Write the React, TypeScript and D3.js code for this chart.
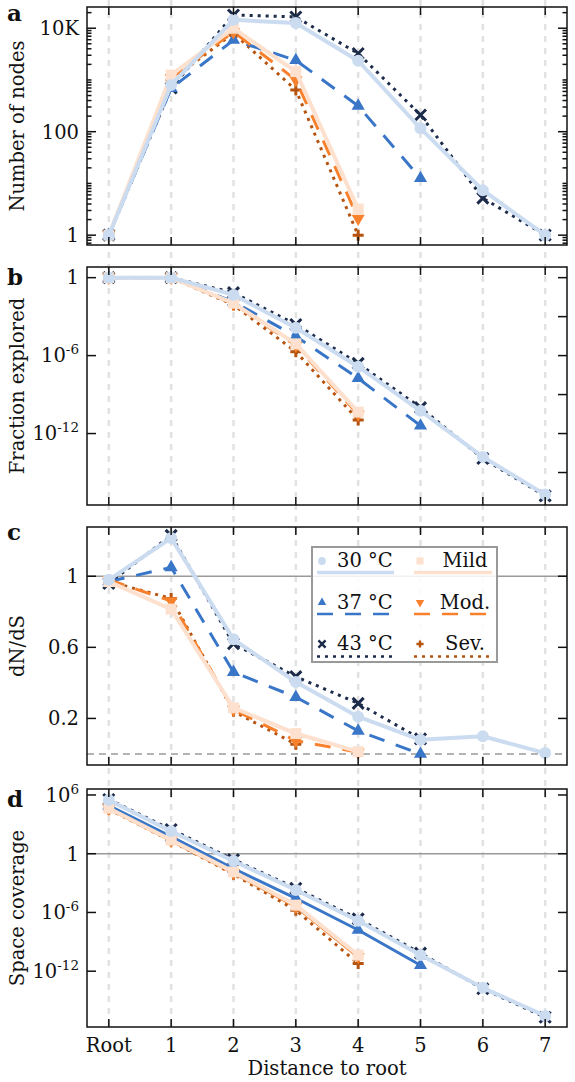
import { useEffect, useRef } from "react";
import * as d3 from "d3";

const distanceLabels = ["Root", "1", "2", "3", "4", "5", "6", "7"];

// a: number of nodes per distance
const nodes30 = [1, 800, 14500, 12600, 2350, 116, 7.4, 1];
const nodes37 = [1, 690, 5900, 2400, 315, 12.6];
const nodes43 = [1, 700, 18000, 16500, 3250, 210, 5.2, 1];
const nodesMild = [1, 1240, 10000, 1450, 3.2];
const nodesMod = [1, 1100, 8500, 1000, 2.1];
const nodesSev = [1, 1000, 8000, 640, 1];

// b: fraction explored
const frac30 = [1, 1, 4.7e-2, 1.4e-4, 1.4e-7, 5.6e-11, 1.6e-14, 2e-17];
const frac37 = [1, 1, 1.4e-2, 3e-5, 1.8e-8, 4e-12];
const frac43 = [1, 1, 7e-2, 2.5e-4, 2.5e-7, 1e-10, 1.2e-14, 1.6e-17];
const fracMild = [1, 1, 1.1e-2, 8e-6, 4.5e-11];
const fracMod = [1, 1, 1e-2, 6e-6, 3e-11];
const fracSev = [1, 1, 8e-3, 2e-6, 1.1e-11];

// c: dN/dS
const dnds30 = [0.98, 1.215, 0.645, 0.405, 0.21, 0.08, 0.1, 0.005];
const dnds37 = [0.97, 1.05, 0.46, 0.32, 0.13, 0.0];
const dnds43 = [0.96, 1.23, 0.62, 0.435, 0.285, 0.085];
const dndsMild = [0.97, 0.815, 0.26, 0.115, 0.013];
const dndsMod = [0.98, 0.86, 0.25, 0.075, 0.01];
const dndsSev = [0.97, 0.875, 0.24, 0.055];

// d: space coverage
const cov30 = [3e5, 200, 0.18, 2e-4, 1.4e-7, 4.4e-11, 2e-14, 2.7e-17];
const cov37 = [8e4, 55, 3e-2, 2.8e-5, 1.6e-8, 4e-12];
const cov43 = [3.5e5, 300, 0.25, 3e-4, 2.2e-7, 7e-11, 1.6e-14, 2e-17];
const covMild = [4.5e4, 25, 1.4e-2, 5.6e-6, 4.4e-11];
const covMod = [4e4, 22, 1.1e-2, 4e-6, 3e-11];
const covSev = [3.5e4, 20, 8e-3, 1.7e-6, 6e-12];

const nodesTicks = [1, 100, 10000];
const nodesTickLabels = ["1", "100", "10K"];
const fracTicks = [1, 1e-6, 1e-12];
const fracRightTicks = [1, 1e-3, 1e-6, 1e-9, 1e-12, 1e-15];
const dndsTicks = [0.2, 0.6, 1];
const covTicks = [1e6, 1, 1e-6, 1e-12];

type Key = "t30" | "t37" | "t43" | "mild" | "mod" | "sev";

const legendCols: Key[][] = [
  ["t30", "t37", "t43"],
  ["mild", "mod", "sev"],
];
const drawOrder: Key[] = ["t43", "sev", "t37", "mod", "mild", "t30"];

const styles: Record<Key, { name: string; color: string; width: number; dash: string | null; marker: string }> = {
  t30: { name: "30 °C", color: "#cbdcf1", width: 4, dash: null, marker: "circle" },
  t37: { name: "37 °C", color: "#3a76c8", width: 3, dash: "16,12", marker: "triUp" },
  t43: { name: "43 °C", color: "#1c2b4a", width: 3, dash: "3,5", marker: "x" },
  mild: { name: "Mild", color: "#fde1ce", width: 4, dash: null, marker: "square" },
  mod: { name: "Mod.", color: "#f8812d", width: 3, dash: "16,12", marker: "triDown" },
  sev: { name: "Sev.", color: "#b5530f", width: 3, dash: "3,5", marker: "plus" },
};

const FONT = "DejaVu Serif";

const markerPath = (m: string, s: number) => {
  if (m === "circle") return d3.symbol(d3.symbolCircle, 113 * s * s)() as string;
  if (m === "square") return d3.symbol(d3.symbolSquare, 121 * s * s)() as string;
  if (m === "triUp" || m === "triDown") return d3.symbol(d3.symbolTriangle, 75 * s * s)() as string;
  const h = 5.5 * s;
  if (m === "x") return `M${-h},${-h}L${h},${h}M${-h},${h}L${h},${-h}`;
  return `M${-h},0L${h},0M0,${-h}L0,${h}`;
};

const drawMarker = (g: any, m: string, color: string, cx: number, cy: number, s: number) => {
  const stroked = m === "x" || m === "plus";
  g.append("path")
    .attr("d", markerPath(m, s))
    .attr("transform", `translate(${cx},${cy})${m === "triDown" ? " rotate(180)" : ""}`)
    .attr("fill", stroked ? "none" : color)
    .attr("stroke", stroked ? color : "none")
    .attr("stroke-width", stroked ? 3 * Math.max(s, 0.8) : 0);
};

const App = () => {
  const ref = useRef<SVGSVGElement | null>(null);

  useEffect(() => {
    if (!ref.current) return;
    const svg = d3.select(ref.current);
    svg.selectAll("*").remove();

    const left = 87;
    const right = 567;
    const x = d3.scaleLinear().domain([-0.35, 7.35]).range([left, right]);

    const panels = [
      {
        letter: "a", letterY: 21, title: "Number of nodes", top: 7, bottom: 245, log: true,
        domain: [10 ** -0.19, 10 ** 4.41],
        data: { t30: nodes30, t37: nodes37, t43: nodes43, mild: nodesMild, mod: nodesMod, sev: nodesSev },
        ticks: nodesTicks, labels: nodesTickLabels, rightTicks: nodesTicks, minor: true, hlines: [] as { v: number; dash: string | null }[],
      },
      {
        letter: "b", letterY: 285, title: "Fraction explored", top: 267, bottom: 505, log: true,
        domain: [10 ** -17.5, 10 ** 0.82],
        data: { t30: frac30, t37: frac37, t43: frac43, mild: fracMild, mod: fracMod, sev: fracSev },
        ticks: fracTicks, labels: null, rightTicks: fracRightTicks, minor: false, hlines: [],
      },
      {
        letter: "c", letterY: 540, title: "dN/dS", top: 527, bottom: 765, log: false,
        domain: [-0.062, 1.277],
        data: { t30: dnds30, t37: dnds37, t43: dnds43, mild: dndsMild, mod: dndsMod, sev: dndsSev },
        ticks: dndsTicks, labels: dndsTicks.map(String), rightTicks: dndsTicks, minor: false,
        hlines: [{ v: 1, dash: null }, { v: 0, dash: "7,5" }],
      },
      {
        letter: "d", letterY: 807, title: "Space coverage", top: 789, bottom: 1027, log: true,
        domain: [10 ** -17.7, 10 ** 6.61],
        data: { t30: cov30, t37: cov37, t43: cov43, mild: covMild, mod: covMod, sev: covSev },
        ticks: covTicks, labels: null, rightTicks: covTicks, minor: false, hlines: [{ v: 1, dash: null }],
        solid: ["t37", "mod"],
      },
    ];

    // vertical guides through all panels
    svg.append("g")
      .selectAll("line")
      .data(distanceLabels)
      .join("line")
      .attr("x1", (_, i) => x(i))
      .attr("x2", (_, i) => x(i))
      .attr("y1", 0)
      .attr("y2", 1030)
      .attr("stroke", "#e2e2e2")
      .attr("stroke-width", 2.5)
      .attr("stroke-dasharray", "6,6");

    panels.forEach((p) => {
      const y: any = p.log
        ? d3.scaleLog().domain(p.domain).range([p.bottom, p.top])
        : d3.scaleLinear().domain(p.domain).range([p.bottom, p.top]);
      const g = svg.append("g");

      p.hlines.forEach((h) => {
        g.append("line")
          .attr("x1", left).attr("x2", right)
          .attr("y1", y(h.v)).attr("y2", y(h.v))
          .attr("stroke", "#9a9a9a")
          .attr("stroke-width", 1.6)
          .attr("stroke-dasharray", h.dash);
      });

      drawOrder.forEach((k) => {
        const vals: number[] | undefined = (p.data as any)[k];
        if (!vals) return;
        const st = styles[k];
        const dash = (p as any).solid && (p as any).solid.includes(k) ? null : st.dash;
        const line = d3.line<number>().x((_, i) => x(i)).y((d) => y(d));
        g.append("path")
          .datum(vals)
          .attr("fill", "none")
          .attr("stroke", st.color)
          .attr("stroke-width", st.width)
          .attr("stroke-dasharray", dash)
          .attr("stroke-linejoin", "round")
          .attr("d", line);
        vals.forEach((v, i) => drawMarker(g, st.marker, st.color, x(i), y(v), 1));
      });

      // frame
      g.append("rect")
        .attr("x", left).attr("y", p.top)
        .attr("width", right - left).attr("height", p.bottom - p.top)
        .attr("fill", "none").attr("stroke", "#111").attr("stroke-width", 1.5);

      // x ticks top and bottom, inward
      distanceLabels.forEach((_, i) => {
        g.append("line").attr("x1", x(i)).attr("x2", x(i)).attr("y1", p.bottom).attr("y2", p.bottom - 8)
          .attr("stroke", "#111").attr("stroke-width", 1.5);
        g.append("line").attr("x1", x(i)).attr("x2", x(i)).attr("y1", p.top).attr("y2", p.top + 8)
          .attr("stroke", "#111").attr("stroke-width", 1.5);
      });

      // y ticks
      const tick = (v: number, side: "l" | "r", len: number) => {
        const x0 = side === "l" ? left : right;
        const x1 = side === "l" ? left + len : right - len;
        g.append("line").attr("x1", x0).attr("x2", x1).attr("y1", y(v)).attr("y2", y(v))
          .attr("stroke", "#111").attr("stroke-width", 1.5);
      };
      p.ticks.forEach((v) => tick(v, "l", 9));
      p.rightTicks.forEach((v) => tick(v, "r", 9));
      if (p.minor) {
        for (let e = -1; e <= 4; e++) {
          for (let m = 1; m <= 9; m++) {
            const v = m * 10 ** e;
            if (v < p.domain[0] || v > p.domain[1]) continue;
            if (p.ticks.includes(v)) continue;
            tick(v, "l", 4.5);
            tick(v, "r", 4.5);
          }
        }
      }

      // y tick labels
      p.ticks.forEach((v, i) => {
        const t = g.append("text")
          .attr("x", left - 8)
          .attr("y", y(v))
          .attr("dy", "0.35em")
          .attr("text-anchor", "end")
          .attr("font-family", FONT)
          .attr("font-size", 19.5)
          .attr("fill", "#111");
        if (p.labels) {
          t.text(p.labels[i]);
        } else {
          const e = Math.round(Math.log10(v));
          if (e === 0) t.text("1");
          else {
            t.append("tspan").text("10");
            t.append("tspan").attr("dy", -8).attr("font-size", 13.5).text(String(e));
          }
        }
      });

      // axis title
      g.append("text")
        .attr("transform", `translate(23.5,${(p.top + p.bottom) / 2}) rotate(-90)`)
        .attr("text-anchor", "middle")
        .attr("font-family", FONT)
        .attr("font-size", 19.5)
        .attr("fill", "#111")
        .text(p.title);

      // panel letter
      g.append("text")
        .attr("x", 7)
        .attr("y", p.letterY)
        .attr("font-family", FONT)
        .attr("font-weight", "bold")
        .attr("font-size", 23)
        .attr("fill", "#111")
        .text(p.letter);
    });

    // x tick labels
    svg.append("g")
      .selectAll("text")
      .data(distanceLabels)
      .join("text")
      .attr("x", (_, i) => x(i))
      .attr("y", 1052)
      .attr("text-anchor", "middle")
      .attr("font-family", FONT)
      .attr("font-size", 19.5)
      .attr("fill", "#111")
      .text((d) => d);

    svg.append("text")
      .attr("x", (left + right) / 2)
      .attr("y", 1075)
      .attr("text-anchor", "middle")
      .attr("font-family", FONT)
      .attr("font-size", 19.5)
      .attr("fill", "#111")
      .text("Distance to root");

    // legend in panel c
    const lg = svg.append("g");
    lg.append("rect")
      .attr("x", 312).attr("y", 547).attr("width", 185).attr("height", 115)
      .attr("fill", "white").attr("fill-opacity", 0.85)
      .attr("stroke", "#999").attr("stroke-width", 2);
    const rowText = [567, 608.5, 650];
    const rowLine = [572.5, 614, 656.5];
    const colMarker = [322, 420];
    const colLine = [[317, 394], [414, 492]];
    legendCols.forEach((col, c) => {
      col.forEach((k, r) => {
        const st = styles[k];
        lg.append("line")
          .attr("x1", colLine[c][0]).attr("x2", colLine[c][1])
          .attr("y1", rowLine[r]).attr("y2", rowLine[r])
          .attr("stroke", st.color).attr("stroke-width", st.width - 0.5)
          .attr("stroke-dasharray", st.dash);
        drawMarker(lg, st.marker, st.color, colMarker[c], rowText[r] - 6, 0.65);
        lg.append("text")
          .attr("x", c === 0 ? 337 : 465)
          .attr("y", rowText[r])
          .attr("text-anchor", c === 0 ? "start" : "middle")
          .attr("font-family", FONT)
          .attr("font-size", 19.5)
          .attr("fill", "#111")
          .text(st.name);
      });
    });
  }, []);

  return <svg ref={ref} width={575} height={1082} style={{ position: "absolute", left: 0, top: 0, background: "white" }} />;
};

export default App;
